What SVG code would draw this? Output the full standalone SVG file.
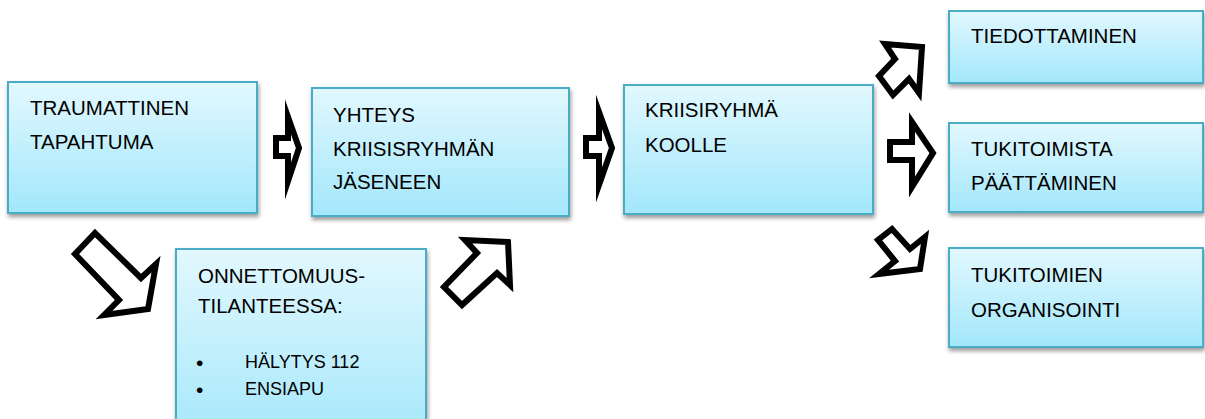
<svg xmlns="http://www.w3.org/2000/svg" width="1205" height="419" viewBox="0 0 1205 419">
<defs>
<linearGradient id="g" x1="0" y1="0" x2="0" y2="1">
<stop offset="0" stop-color="#e2f8fe"/>
<stop offset="1" stop-color="#a2e7fb"/>
</linearGradient>
<filter id="sh" x="-5%" y="-5%" width="115%" height="125%">
<feDropShadow dx="1" dy="3" stdDeviation="2" flood-color="#000" flood-opacity="0.4"/>
</filter>
</defs>
<style>
.box{fill:url(#g);stroke:#4bacc6;stroke-width:2;filter:url(#sh)}
.t{font-family:"Liberation Sans",Arial,sans-serif;font-size:20.5px;fill:#000}
.s{font-family:"Liberation Sans",Arial,sans-serif;font-size:18px;fill:#000}
.b{font-family:"Liberation Sans",Arial,sans-serif;font-size:21px;fill:#000}
.ar{fill:#fff;stroke:#000;stroke-width:6;stroke-linejoin:miter;stroke-miterlimit:10}
</style>
<rect width="1205" height="419" fill="#fff"/>
<g id="n1"><rect class="box" x="8" y="82" width="249" height="131"/>
<text class="t" x="30" y="115">TRAUMATTINEN</text><text class="t" x="30" y="149">TAPAHTUMA</text></g>
<g id="n2"><rect class="box" x="312" y="88" width="257" height="128"/>
<text class="t" x="333" y="122">YHTEYS</text><text class="t" x="333" y="156">KRIISISRYHMÄN</text><text class="t" x="333" y="189">JÄSENEEN</text></g>
<g id="n3"><rect class="box" x="624" y="85" width="249" height="129"/>
<text class="t" x="645" y="117">KRIISIRYHMÄ</text><text class="t" x="645" y="152">KOOLLE</text></g>
<g id="n4"><rect class="box" x="949" y="11" width="254" height="72"/>
<text class="t" x="971" y="43">TIEDOTTAMINEN</text></g>
<g id="n5"><rect class="box" x="949" y="123" width="254" height="89"/>
<text class="t" x="971" y="156">TUKITOIMISTA</text><text class="t" x="971" y="190">PÄÄTTÄMINEN</text></g>
<g id="n6"><rect class="box" x="949" y="248" width="254" height="99"/>
<text class="t" x="971" y="282">TUKITOIMIEN</text><text class="t" x="971" y="317">ORGANISOINTI</text></g>
<g id="n7"><rect class="box" x="176" y="249" width="250" height="200"/>
<text class="t" x="198" y="283">ONNETTOMUUS-</text><text class="t" x="198" y="313">TILANTEESSA:</text>
<text class="b" x="196" y="370">•</text><text class="s" x="245" y="368">HÄLYTYS 112</text>
<text class="b" x="196" y="397">•</text><text class="s" x="245" y="395">ENSIAPU</text></g>
<g id="connectors">
<polygon class="ar" points="276,138 288,138 288,117 299,148 288,181 288,156 276,156"/>
<polygon class="ar" points="586,138 599,138 599,112 612,148 599,185 599,156 586,156"/>
<polygon class="ar" points="890,142 912,142 912,122 933,153 912,187 912,160 890,160"/>
<polygon class="ar" points="922,47 885,44 895,59 879,76 893,95 909,79 919,93"/>
<polygon class="ar" points="920,269 879,274 895,261 878,240 892,229 910,249 925,237"/>
<polygon class="ar" points="148,309 104,315 119,300 75,254 95,233 141,278 156,264"/>
<polygon class="ar" points="508,242 465,240 477,253 444,287 462,305 497,273 510,285"/>
</g>
</svg>
